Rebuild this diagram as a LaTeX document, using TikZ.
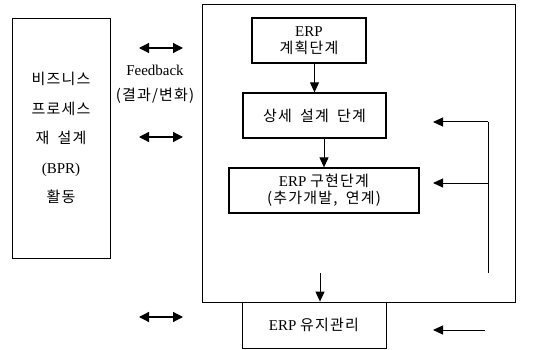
\documentclass[tikz,border=0pt]{standalone}
\usepackage{fontspec}
\setmainfont{Liberation Serif}
\newfontfamily\kr[LetterSpace=8,WordSpace=1.8]{Noto Sans CJK KR}
\usetikzlibrary{arrows.meta}
\tikzset{
    stagebox/.style={draw, line width=1.3pt, rectangle, inner sep=0pt, align=center, font=\fontsize{15}{21}\selectfont},
    outerbox/.style={draw, line width=0.8pt, rectangle, inner sep=0pt},
    flow/.style={line width=1pt, -{Triangle[length=10pt,width=9pt]}},
    both/.style={line width=1.2pt, {Triangle[length=10pt,width=10pt]}-{Triangle[length=10pt,width=10pt]}}
}
\begin{document}
\begin{tikzpicture}[x=1pt,y=-1pt]
                \useasboundingbox (0,0) rectangle (546,350);
                % BPR
                \node[outerbox, minimum width=98pt, minimum height=240pt, align=center,
                      font=\fontsize{15}{29.5}\selectfont] (bpr) at (61,138)
                    {\kr 비즈니스\\\kr 프로세스\\\kr 재 설계\\(BPR)\\\kr 활동};
                % ERP
                \node[outerbox, minimum width=313pt, minimum height=298pt] (erp) at (358.5,153) {};
                \node[stagebox, minimum width=114pt, minimum height=45pt] (plan) at (309,40.5)
                    {ERP\\[-4pt]\kr 계획단계};
                \node[stagebox, minimum width=143pt, minimum height=45pt] (detail) at (314.5,115.5)
                    {\kr 상세 설계 단계};
                \node[stagebox, minimum width=190pt, minimum height=45pt] (impl) at (324,190.5)
                    {ERP {\kr 구현단계}\\[-4pt]{\kr (추가개발, 연계)}};
                \node[outerbox, minimum width=144pt, minimum height=46pt,
                      font=\fontsize{15}{18}\selectfont] (maint) at (314,325)
                    {ERP {\kr 유지관리}};
                \draw[flow] (plan.south -| detail.north) -- (detail.north);
                \draw[flow] (detail.south -| impl.north) -- (impl.north);
                \coordinate (drop) at (320,273);
                \draw[flow] (drop) -- (drop |- maint.north);
                % Feedback
                \node[align=center, font=\fontsize{15}{25}\selectfont] (fb) at (155,84)
                    {Feedback\\{\kr (결과/변화)}};
                \foreach \y [count=\i] in {48,137,317} {
                    \coordinate (l\i) at (139,\y);
                    \coordinate (r\i) at (183,\y);
                    \draw[both] (l\i) -- (r\i);
                }
                % loop
                \coordinate (top) at (488,122);
                \coordinate (bot) at (488,273);
                \draw[line width=0.8pt] (bot) -- (top);
                \draw[flow] (top) -- (433,122);
                \draw[flow] (top |- impl) ++(0,-7.5) coordinate (mid) -- (433,183);
                \coordinate (last) at (485,330);
                \draw[flow] (last) -- (433,330);
\end{tikzpicture}
\end{document}
